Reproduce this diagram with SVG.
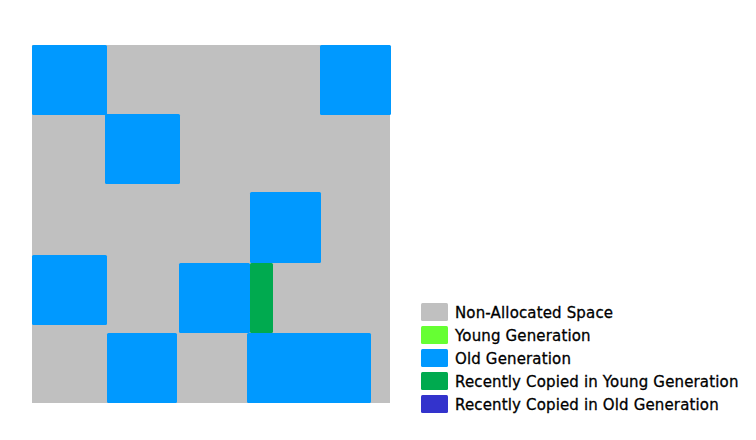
<svg xmlns="http://www.w3.org/2000/svg" width="756" height="440" viewBox="0 0 756 440">
<style>
.bg{fill:#C0C0C0}
.old{fill:#0099FF}
.ycopy{fill:#00AA4F}
.young{fill:#66FF33}
.ocopy{fill:#3333CC}
.lbl{font-family:"DejaVu Sans",Verdana,sans-serif;font-size:15px;fill:#000;stroke:#000;stroke-width:0.3;letter-spacing:0.15px}
</style>
<rect width="756" height="440" fill="#FFFFFF"/>
<g id="heap">
<rect class="bg" x="32" y="45" width="358" height="358"/>
</g>
<g id="regions">
<rect id="r1" class="old" x="32" y="45" width="75" height="70" rx="1.5"/>
<rect id="r2" class="old" x="320" y="45" width="71" height="70" rx="1.5"/>
<rect id="r3" class="old" x="105" y="114" width="75" height="70" rx="1.5"/>
<rect id="r4" class="old" x="250" y="192" width="71" height="71" rx="1.5"/>
<rect id="r5" class="old" x="32" y="255" width="75" height="70" rx="1.5"/>
<rect id="r6" class="old" x="179" y="263" width="71" height="70" rx="1.5"/>
<rect id="r7" class="ycopy" x="250" y="263" width="23" height="70" rx="1.5"/>
<rect id="r8" class="old" x="107" y="333" width="70" height="70" rx="1.5"/>
<rect id="r9" class="old" x="247" y="333" width="124" height="70" rx="1.5"/>
</g>
<g id="legend">
<g id="leg1"><rect class="bg" x="421" y="303" width="27" height="18" rx="1.5"/><text class="lbl" x="455" y="318">Non-Allocated Space</text></g>
<g id="leg2"><rect class="young" x="421" y="326" width="27" height="18" rx="1.5"/><text class="lbl" x="455" y="341">Young Generation</text></g>
<g id="leg3"><rect class="old" x="421" y="349" width="27" height="18" rx="1.5"/><text class="lbl" x="455" y="364">Old Generation</text></g>
<g id="leg4"><rect class="ycopy" x="421" y="372" width="27" height="18" rx="1.5"/><text class="lbl" x="455" y="387">Recently Copied in Young Generation</text></g>
<g id="leg5"><rect class="ocopy" x="421" y="395" width="27" height="18" rx="1.5"/><text class="lbl" x="455" y="410">Recently Copied in Old Generation</text></g>
</g>
<g id="connectors"></g>
</svg>
